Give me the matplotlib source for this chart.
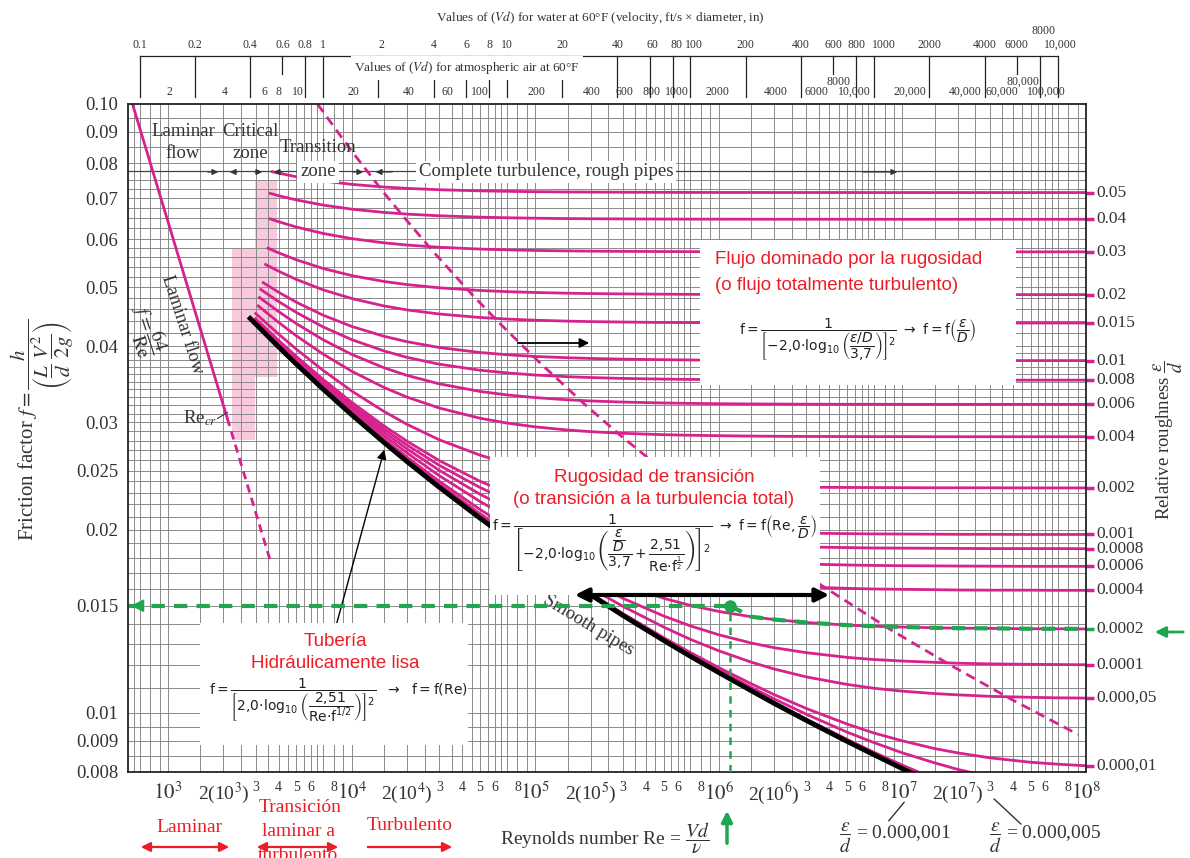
import numpy as np
import matplotlib
matplotlib.use("Agg")
import matplotlib.pyplot as plt
from matplotlib.patches import Rectangle, FancyArrowPatch
from matplotlib.transforms import blended_transform_factory
from matplotlib.ticker import NullLocator

W, H = 1190, 858
PINK = "#d6228d"
GREEN = "#1fa64f"
RED = "#ee1d25"
GREY = "#333333"
SERIF = "Liberation Serif"
SANS = "Liberation Sans"
plt.rcParams["font.family"] = SERIF

# relative roughness of each curve and its label at the right edge
roughness = [0.05, 0.04, 0.03, 0.02, 0.015, 0.01, 0.008, 0.006, 0.004, 0.002,
             0.001, 0.0008, 0.0006, 0.0004, 0.0002, 0.0001, 0.00005, 0.00001,
             0.000005, 0.000001]
rough_labels = ["0.05", "0.04", "0.03", "0.02", "0.015", "0.01", "0.008", "0.006",
                "0.004", "0.002", "0.001", "0.0008", "0.0006", "0.0004", "0.0002",
                "0.0001", "0.000,05", "0.000,01", None, None]
# Reynolds number where each curve starts
re_start = [3700, 3600, 3600, 3500, 3400, 3300, 3200, 3150, 3100, 3000,
            3000, 3000, 3000, 3000, 3000, 3000, 3000, 3000, 3000, 3000]
re_grid = [4e3, 5e3, 7e3, 1e4, 1.5e4, 2e4, 3e4, 5e4, 7e4, 1e5, 1.5e5, 2e5, 3e5,
           5e5, 7e5, 1e6, 1.5e6, 2e6, 3e6, 5e6, 7e6, 1e7, 1.5e7, 2e7, 3e7,
           5e7, 7e7, 1e8]
# friction factor x 1e5 : first value at re_start, then at re_grid
f_rows = [
    [7740, 7699, 7595, 7473, 7380, 7306, 7269, 7231, 7201, 7188, 7178, 7170, 7167, 7163, 7160, 7158, 7157, 7157, 7156, 7156, 7156, 7155, 7155, 7155, 7155, 7155, 7155, 7155, 7155],
    [7132, 7070, 6957, 6823, 6719, 6637, 6595, 6553, 6519, 6504, 6493, 6484, 6480, 6476, 6472, 6471, 6470, 6469, 6468, 6468, 6468, 6467, 6467, 6467, 6467, 6467, 6467, 6467, 6467],
    [6477, 6408, 6280, 6129, 6011, 5916, 5867, 5818, 5778, 5761, 5748, 5738, 5733, 5728, 5724, 5722, 5720, 5719, 5719, 5718, 5718, 5718, 5718, 5718, 5718, 5718, 5717, 5717, 5717],
    [5798, 5696, 5548, 5369, 5227, 5112, 5052, 4991, 4941, 4919, 4903, 4890, 4883, 4877, 4872, 4869, 4868, 4866, 4866, 4865, 4865, 4864, 4864, 4864, 4864, 4864, 4864, 4864, 4864],
    [5450, 5314, 5151, 4952, 4793, 4660, 4591, 4520, 4461, 4435, 4415, 4400, 4392, 4385, 4378, 4376, 4374, 4372, 4371, 4371, 4370, 4370, 4369, 4369, 4369, 4369, 4369, 4369, 4369],
    [5089, 4908, 4726, 4499, 4313, 4155, 4071, 3982, 3908, 3875, 3850, 3831, 3821, 3811, 3803, 3799, 3796, 3794, 3793, 3792, 3792, 3791, 3791, 3791, 3791, 3791, 3790, 3790, 3790],
    [4959, 4738, 4546, 4304, 4103, 3931, 3837, 3739, 3655, 3618, 3589, 3566, 3555, 3543, 3534, 3530, 3527, 3524, 3523, 3522, 3521, 3521, 3520, 3520, 3520, 3520, 3520, 3520, 3520],
    [4811, 4562, 4358, 4100, 3880, 3689, 3584, 3471, 3373, 3329, 3295, 3268, 3254, 3240, 3229, 3224, 3220, 3217, 3216, 3214, 3213, 3213, 3212, 3212, 3212, 3212, 3212, 3212, 3212],
    [4661, 4379, 4162, 3883, 3641, 3424, 3302, 3168, 3048, 2993, 2950, 2915, 2897, 2879, 2864, 2858, 2853, 2849, 2847, 2845, 2844, 2843, 2843, 2842, 2842, 2842, 2842, 2842, 2842],
    [4529, 4189, 3957, 3651, 3379, 3127, 2979, 2809, 2651, 2573, 2511, 2458, 2431, 2402, 2379, 2369, 2361, 2355, 2351, 2348, 2346, 2345, 2344, 2343, 2343, 2343, 2342, 2342, 2342],
    [4441, 4091, 3850, 3529, 3238, 2961, 2795, 2597, 2402, 2302, 2217, 2144, 2103, 2060, 2024, 2007, 1994, 1984, 1979, 1974, 1970, 1968, 1967, 1966, 1965, 1965, 1964, 1964, 1964],
    [4423, 4071, 3828, 3504, 3209, 2926, 2755, 2551, 2346, 2239, 2148, 2067, 2022, 1973, 1931, 1912, 1897, 1886, 1880, 1873, 1869, 1866, 1865, 1864, 1863, 1862, 1862, 1862, 1861],
    [4406, 4051, 3806, 3478, 3179, 2891, 2715, 2503, 2287, 2173, 2073, 1982, 1931, 1875, 1826, 1803, 1785, 1771, 1763, 1756, 1750, 1747, 1745, 1744, 1743, 1742, 1741, 1741, 1741],
    [4388, 4031, 3784, 3453, 3149, 2855, 2674, 2453, 2225, 2101, 1991, 1888, 1829, 1762, 1701, 1672, 1649, 1630, 1620, 1610, 1602, 1598, 1596, 1594, 1592, 1591, 1591, 1590, 1590],
    [4370, 4011, 3762, 3427, 3119, 2818, 2632, 2402, 2159, 2024, 1901, 1781, 1710, 1625, 1543, 1502, 1468, 1439, 1424, 1408, 1394, 1388, 1384, 1380, 1378, 1377, 1375, 1375, 1374],
    [4361, 4001, 3750, 3414, 3104, 2799, 2610, 2375, 2125, 1983, 1851, 1721, 1641, 1543, 1443, 1390, 1344, 1303, 1280, 1256, 1234, 1224, 1217, 1211, 1207, 1204, 1202, 1201, 1200],
    [4356, 3996, 3745, 3408, 3096, 2790, 2599, 2362, 2107, 1962, 1826, 1689, 1604, 1497, 1384, 1321, 1265, 1212, 1181, 1146, 1114, 1098, 1086, 1076, 1071, 1065, 1061, 1059, 1058],
    [4353, 3992, 3740, 3402, 3090, 2782, 2591, 2351, 2093, 1945, 1804, 1662, 1572, 1457, 1330, 1257, 1187, 1117, 1072, 1017, 959, 927, 900, 874, 860, 844, 830, 824, 819],
    [4352, 3991, 3740, 3402, 3089, 2782, 2589, 2350, 2091, 1943, 1802, 1659, 1568, 1452, 1323, 1248, 1176, 1102, 1055, 995, 930, 894, 860, 828, 808, 786, 765, 755, 747],
    [4352, 3991, 3739, 3401, 3088, 2781, 2589, 2349, 2090, 1941, 1800, 1656, 1565, 1447, 1317, 1241, 1167, 1091, 1041, 977, 905, 862, 821, 779, 752, 718, 682, 661, 643],
]
# smooth pipe curve (x 1e5), first value at Re = 2800
re_smooth_start = 2800
f_smooth = [4445, 3991, 3739, 3401, 3088, 2781, 2588, 2348, 2089, 1940, 1799, 1656, 1564, 1446,
            1316, 1239, 1165, 1088, 1037, 972, 898, 854, 810, 765, 734, 695, 649, 622, 594]

laminar_re = [640, 2100]
laminar_f = [0.100, 0.0305]
laminar_ext_re = [2100, 3600]
laminar_ext_f = [0.0305, 0.0178]

# limit of complete turbulence (dashed)
bound_re = [6520, 9850, 14950, 19700, 27900, 45300, 63800, 1.03e5, 1.86e5, 2.97e5,
            6.53e5, 1.43e6, 3.10e6, 8.53e6, 1.83e7, 3.90e7, 9.05e7]
bound_f = [9996, 8420, 7155, 6467, 5717, 4864, 4369, 3790, 3212, 2842, 2342, 1964,
           1670, 1373, 1198, 1054, 922]

crit_re = [2980, 3930]
crit_f = [0.0356, 0.075]
crit2_re = [2230, 2980]
crit2_f = [0.0281, 0.058]

example_re = 1.15e6
example_f = 0.015

y_ticks = [0.008, 0.009, 0.01, 0.015, 0.02, 0.025, 0.03, 0.04, 0.05, 0.06, 0.07, 0.08, 0.09, 0.10]
y_tick_labels = ["0.008", "0.009", "0.01", "0.015", "0.02", "0.025", "0.03", "0.04",
                 "0.05", "0.06", "0.07", "0.08", "0.09", "0.10"]

water_vd = [0.1, 0.2, 0.4, 0.6, 0.8, 1, 2, 4, 6, 8, 10, 20, 40, 60, 80, 100, 200, 400,
            600, 800, 1000, 2000, 4000, 6000, 8000, 10000]
water_labels = ["0.1", "0.2", "0.4", "0.6", "0.8", "1", "2", "4", "6", "8", "10", "20",
                "40", "60", "80", "100", "200", "400", "600", "800", "1000", "2000",
                "4000", "6000", "8000", "10,000"]
air_vd = [2, 4, 6, 8, 10, 20, 40, 60, 100, 200, 400, 600, 800, 1000, 2000, 4000, 6000,
          8000, 10000, 20000, 40000, 60000, 80000, 100000]
air_labels = ["2", "4", "6", "8", "10", "20", "40", "60", "100", "200", "400", "600",
              "800", "1000", "2000", "4000", "6000", "8000", "10,000", "20,000",
              "40,000", "60,000", "80,000", "100,000"]
K_WATER = 7000
K_AIR = 510
# small horizontal shifts (pixels) of the printed scale labels
water_nudge = {"2": 3, "60": 3, "80": 4, "100": 4, "1000": 10, "8000": 4, "10,000": 3}
air_nudge = {"6": 7, "8": -2, "60": 7, "100": -2, "800": 4, "1000": 12, "2000": -3,
             "6000": 8, "8000": 8, "10,000": 6, "20,000": 6, "40,000": 6, "60,000": 10,
             "80,000": 8, "100,000": 14}


def fx(px):
    return px / W


def fy(py):
    return 1 - py / H


fig = plt.figure(figsize=(W / 100, H / 100), dpi=100)
ax = fig.add_axes([fx(128), fy(772), (1086 - 128) / W, (772 - 104) / H])
ax.set_xscale("log")
ax.set_yscale("log")
ax.set_xlim(605, 1e8)
ax.set_ylim(0.008, 0.1)
ax.xaxis.set_major_locator(NullLocator())
ax.xaxis.set_minor_locator(NullLocator())
ax.yaxis.set_minor_locator(NullLocator())
ax.set_yticks(y_ticks, y_tick_labels)
ax.tick_params(axis="y", length=0, pad=7, labelsize=13.5, labelcolor=GREY)
for t in ax.get_yticklabels():
    t.set_fontfamily(SERIF)
for s in ax.spines.values():
    s.set_linewidth(1.3)
    s.set_color("#222222")

# grid
x_mult = [1, 1.5, 2, 2.5, 3, 3.5, 4, 4.5, 5, 5.5, 6, 6.5, 7, 8, 9]
xg = [m * 10.0 ** d for d in range(2, 8) for m in x_mult]
ax.vlines([v for v in xg if v > 610], 0.008, 0.1, color="#8a8a8a", lw=0.7, zorder=1)
yg = ([0.0085, 0.009, 0.0095] + [k / 1000 for k in range(10, 40)]
      + [0.04 + 0.002 * k for k in range(10)]
      + [0.06, 0.0625, 0.065, 0.0675, 0.07, 0.0725, 0.075, 0.08, 0.085, 0.09, 0.095])
ax.hlines(yg, 605, 1e8, color="#8a8a8a", lw=0.7, zorder=1)
ax.axhline(0.0775, color="#444444", lw=0.9, zorder=1)

# critical zone shading
ax.fill_between(crit_re, crit_f[0], crit_f[1], color="#f8cade", lw=0, zorder=0.5)
ax.fill_between(crit2_re, crit2_f[0], crit2_f[1], color="#f8cade", lw=0, zorder=0.5)

# curves
for s, row in zip(re_start, f_rows):
    ax.plot([s] + re_grid, np.array(row) / 1e5, color=PINK, lw=2, zorder=2)
ax.plot([re_smooth_start] + re_grid, np.array(f_smooth) / 1e5, color="black", lw=3.5, zorder=3)
ax.plot(laminar_re, laminar_f, color=PINK, lw=2, zorder=2)
ax.plot(laminar_ext_re, laminar_ext_f, color=PINK, lw=2, ls=(0, (3, 2)), zorder=2)
ax.plot(bound_re, np.array(bound_f) / 1e5, color=PINK, lw=2, ls=(0, (3.5, 2.2)), zorder=2)

# right edge labels
tr = blended_transform_factory(ax.transAxes, ax.transData)
for lab, row in zip(rough_labels, f_rows):
    if lab is None:
        continue
    c = GREEN if lab == "0.0002" else PINK
    fe = row[-1] / 1e5
    ax.plot([1.0, 1.008], [fe, fe], transform=tr, color=c, lw=2.5, clip_on=False,
            solid_capstyle="butt")
    ax.text(1.011, fe, lab, transform=tr, va="center", ha="left", fontsize=12.5,
            family=SERIF, color=GREY)

# worked example in green
i02 = roughness.index(0.0002)
gre = [example_re] + [g for g in re_grid if g > example_re]
gf = [example_f] + [v / 1e5 for g, v in zip(re_grid, f_rows[i02][1:]) if g > example_re]
ax.plot([610, example_re], [example_f, example_f], color=GREEN, lw=3, ls=(0, (3.2, 2.2)), zorder=5)
ax.plot(gre, gf, color=GREEN, lw=3, ls=(0, (3.2, 2.2)), zorder=5)
ax.plot([example_re, example_re], [0.008, example_f], color=GREEN, lw=1.8, ls=(0, (3, 2.5)), zorder=5)
ax.plot([example_re], [example_f], "o", color=GREEN, ms=8, zorder=6)
ax.annotate("", xy=(606, example_f), xytext=(700, example_f),
            arrowprops=dict(arrowstyle="-|>", color=GREEN, lw=1, mutation_scale=20), zorder=6)

# bottom x labels
tx = blended_transform_factory(ax.transData, ax.transAxes)
for d in range(3, 9):
    ax.text(10.0 ** d, -0.032, r"$10^{%d}$" % d, transform=tx, ha="center", va="center",
            fontsize=15, color=GREY, math_fontfamily="stix")
for d in range(3, 8):
    ax.text(2 * 10.0 ** d, -0.032, r"2(10$^{%d}$)" % d, transform=tx, ha="center",
            va="center", fontsize=14, color=GREY, math_fontfamily="stix")
    for m in [3, 4, 5, 6, 8]:
        ax.text(m * 10.0 ** d, -0.023, str(m), transform=tx, ha="center", va="center",
                fontsize=10, color=GREY)

# top velocity-diameter scales
tt = blended_transform_factory(ax.transData, fig.transFigure)
ax.plot([water_vd[0] * K_WATER, water_vd[-1] * K_WATER], [fy(56), fy(56)], transform=tt,
        color="#222222", lw=0.9, clip_on=False)
for vd, lab in zip(water_vd, water_labels):
    re = vd * K_WATER
    short = lab in ("0.6", "600", "6000")
    ax.plot([re, re], [fy(56), fy(74 if short else 97)], transform=tt, color="#222222",
            lw=0.9, clip_on=False)
    ax.annotate(lab, xy=(re, fy(31) if lab == "8000" else fy(45)), xycoords=tt,
                xytext=(water_nudge.get(lab, 0), 0), textcoords="offset pixels",
                ha="center", va="center", fontsize=8.5, color=GREY)
for vd, lab in zip(air_vd, air_labels):
    raised = lab in ("8000", "80,000")
    ax.annotate(lab, xy=(vd * K_AIR, fy(82) if raised else fy(92)), xycoords=tt,
                xytext=(air_nudge.get(lab, 0), 0), textcoords="offset pixels",
                ha="center", va="center", fontsize=8.5, color=GREY)
fig.text(fx(600), fy(18), r"Values of ($Vd$) for water at 60°F (velocity, ft/s × diameter, in)",
         ha="center", va="center", fontsize=9.5, color=GREY, math_fontfamily="stix")
fig.text(fx(467), fy(68), r"Values of ($Vd$) for atmospheric air at 60°F", ha="center",
         va="center", fontsize=9.5, color=GREY, math_fontfamily="stix",
         bbox=dict(boxstyle="square,pad=0.25", fc="white", ec="none"))

# axis titles
fig.text(fx(42), fy(430), r"Friction factor $f = \dfrac{h}{\left(\dfrac{L}{d}\ \dfrac{V^2}{2g}\right)}$",
         rotation=90, ha="center", va="center", fontsize=15, color=GREY, math_fontfamily="stix")
fig.text(fx(1168), fy(440), r"Relative roughness $\dfrac{\varepsilon}{d}$", rotation=90,
         ha="center", va="center", fontsize=13.5, color=GREY, math_fontfamily="stix")
fig.text(fx(605), fy(838), r"Reynolds number Re = $\dfrac{Vd}{\nu}$", ha="center",
         va="center", fontsize=14, color=GREY, math_fontfamily="stix")
fig.text(fx(895), fy(838), r"$\dfrac{\varepsilon}{d}$ = 0.000,001", ha="center", va="center",
         fontsize=14, color=GREY, math_fontfamily="stix")
fig.text(fx(1045), fy(838), r"$\dfrac{\varepsilon}{d}$ = 0.000,005", ha="center", va="center",
         fontsize=14, color=GREY, math_fontfamily="stix")
for p0, p1 in [((887, 823), (906, 800)), ((1023, 826), (992, 797))]:
    ax.annotate("", xy=(fx(p1[0]), fy(p1[1])), xytext=(fx(p0[0]), fy(p0[1])),
                xycoords="figure fraction", textcoords="figure fraction",
                arrowprops=dict(arrowstyle="-", color=GREY, lw=1), annotation_clip=False)

# zone labels at the top of the plot
for x, y, t in [(183, 131, "Laminar"), (183, 153, "flow"), (250, 131, "Critical"),
                (250, 153, "zone"), (318, 148, "Transition")]:
    fig.text(fx(x), fy(y), t, ha="center", va="center", fontsize=13.5, color=GREY)
fig.text(fx(318), fy(172), "zone", ha="center", va="center", fontsize=13.5, color=GREY,
         bbox=dict(boxstyle="square,pad=0.15", fc="white", ec="none"))
fig.text(fx(546), fy(172), "Complete turbulence, rough pipes", ha="center", va="center",
         fontsize=13.5, color=GREY, bbox=dict(boxstyle="square,pad=0.15", fc="white", ec="none"))
for tail, tip in [(205, 221), (240, 227), (252, 265), (285, 271), (350, 366), (395, 373), (860, 900)]:
    ax.annotate("", xy=(fx(tip), fy(172)), xytext=(fx(tail), fy(172)),
                xycoords="figure fraction", textcoords="figure fraction",
                arrowprops=dict(arrowstyle="-|>", color=GREY, lw=0.8, mutation_scale=9))

fig.text(fx(182), fy(325), "Laminar flow", rotation=-72, ha="center", va="center",
         fontsize=13.5, color=GREY)
fig.text(fx(146), fy(330), r"$f = \dfrac{64}{\mathrm{Re}}$", rotation=-72, ha="center",
         va="center", fontsize=14, color=GREY, math_fontfamily="stix")
fig.text(fx(200), fy(418), r"Re$_{cr}$", ha="center", va="center", fontsize=13.5, color=GREY,
         math_fontfamily="stix")
ax.annotate("", xy=(fx(230), fy(411)), xytext=(fx(215), fy(420)), xycoords="figure fraction",
            textcoords="figure fraction", arrowprops=dict(arrowstyle="-", color=GREY, lw=0.8))
ax.text(fx(588), fy(625), "Smooth pipes", transform=fig.transFigure, rotation=-31,
        ha="center", va="center", fontsize=13.5, color=GREY, zorder=4)

# white boxes with the explanations
for x0, y0, x1, y1 in [(700, 240, 1016, 385), (490, 457, 820, 595), (200, 623, 468, 745)]:
    fig.add_artist(Rectangle((fx(x0), fy(y1)), (x1 - x0) / W, (y1 - y0) / H,
                             transform=fig.transFigure, fc="white", ec="none", zorder=2))

fig.text(fx(715), fy(260), "Flujo dominado por la rugosidad", ha="left", va="center",
         fontsize=13.5, color=RED, family=SANS)
fig.text(fx(715), fy(285), "(o flujo totalmente turbulento)", ha="left", va="center",
         fontsize=13.5, color=RED, family=SANS)
fig.text(fx(858), fy(340),
         r"$\mathrm{f}{=}\dfrac{1}{\left[-2{,}0{\cdot}\log_{10}\left(\dfrac{\varepsilon/D}{3{,}7}\right)\right]^2}"
         r"\ \rightarrow\ \mathrm{f}{=}\mathrm{f}\left(\dfrac{\varepsilon}{D}\right)$",
         ha="center", va="center", fontsize=10, color="#222222", math_fontfamily="dejavusans")

fig.text(fx(654), fy(477), "Rugosidad de transición", ha="center", va="center",
         fontsize=13.5, color=RED, family=SANS)
fig.text(fx(654), fy(499), "(o transición a la turbulencia total)", ha="center", va="center",
         fontsize=13.5, color=RED, family=SANS)
fig.text(fx(655), fy(543),
         r"$\mathrm{f}{=}\dfrac{1}{\left[-2{,}0{\cdot}\log_{10}\left(\dfrac{\dfrac{\varepsilon}{D}}{3{,}7}"
         r"+\dfrac{2{,}51}{\mathrm{Re}{\cdot}\mathrm{f}^{\frac{1}{2}}}\right)\right]^2}"
         r"\ \rightarrow\ \mathrm{f}{=}\mathrm{f}\left(\mathrm{Re},\dfrac{\varepsilon}{D}\right)$",
         ha="center", va="center", fontsize=10, color="#222222", math_fontfamily="dejavusans")

fig.text(fx(335), fy(642), "Tubería", ha="center", va="center", fontsize=13.5, color=RED, family=SANS)
fig.text(fx(335), fy(663), "Hidráulicamente lisa", ha="center", va="center", fontsize=13.5,
         color=RED, family=SANS)
fig.text(fx(338), fy(700),
         r"$\mathrm{f}{=}\dfrac{1}{\left[2{,}0{\cdot}\log_{10}\left(\dfrac{2{,}51}{\mathrm{Re}{\cdot}\mathrm{f}^{1/2}}\right)\right]^2}"
         r"\ \ \rightarrow\ \ \mathrm{f}{=}\mathrm{f}(\mathrm{Re})$",
         ha="center", va="center", fontsize=10, color="#222222", math_fontfamily="dejavusans")

# black arrows
fig.add_artist(FancyArrowPatch((fx(572), fy(595)), (fx(832), fy(595)), transform=fig.transFigure,
                               arrowstyle="<|-|>", mutation_scale=20, lw=3, color="black", zorder=4))
ax.annotate("", xy=(fx(592), fy(343)), xytext=(fx(515), fy(343)), xycoords="figure fraction",
            textcoords="figure fraction",
            arrowprops=dict(arrowstyle="-|>", color="black", lw=1.3, mutation_scale=14))
ax.annotate("", xy=(fx(385), fy(447)), xytext=(fx(336), fy(626)), xycoords="figure fraction",
            textcoords="figure fraction",
            arrowprops=dict(arrowstyle="-|>", color="black", lw=1, mutation_scale=14))

# flow regime notes under the axis
fig.text(fx(189), fy(827), "Laminar", ha="center", va="center", fontsize=14, color=RED)
fig.text(fx(300), fy(808), "Transición", ha="center", va="center", fontsize=14, color=RED)
fig.text(fx(298), fy(831), "laminar a", ha="center", va="center", fontsize=14, color=RED)
fig.text(fx(298), fy(855), "turbulento", ha="center", va="center", fontsize=14, color=RED)
fig.text(fx(410), fy(826), "Turbulento", ha="center", va="center", fontsize=14, color=RED)
for a, b, style in [(138, 232, "<|-|>"), (254, 341, "<|-|>"), (365, 455, "-|>")]:
    fig.add_artist(FancyArrowPatch((fx(a), fy(847)), (fx(b), fy(847)), transform=fig.transFigure,
                                   arrowstyle=style, mutation_scale=14, lw=1.6, color=RED, zorder=4))
fig.add_artist(FancyArrowPatch((fx(727), fy(846)), (fx(727), fy(808)), transform=fig.transFigure,
                               arrowstyle="-|>", mutation_scale=16, lw=2.5, color=GREEN, zorder=4))
fig.add_artist(FancyArrowPatch((fx(1186), fy(632)), (fx(1152), fy(632)), transform=fig.transFigure,
                               arrowstyle="-|>", mutation_scale=16, lw=2, color=GREEN, zorder=4))

fig.savefig("out.png", dpi=100)
